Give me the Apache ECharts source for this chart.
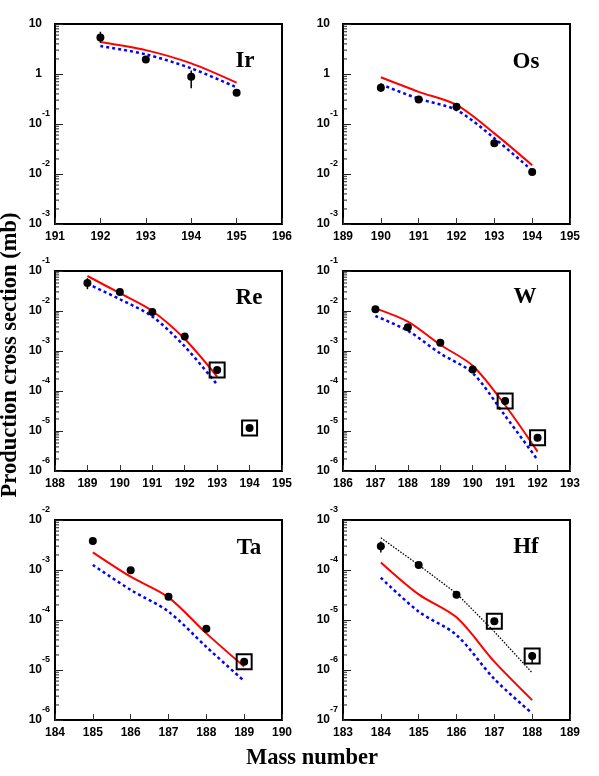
<!DOCTYPE html>
<html>
<head>
<meta charset="utf-8">
<script src="https://cdn.jsdelivr.net/npm/echarts@6/dist/echarts.min.js"></script>
<style>
html, body { margin: 0; padding: 0; background: #fff; }
#main { width: 599px; height: 776px; }
</style>
</head>
<body>
<div id="main"></div>
<script>
// Ir
var irMass = [192, 193, 194, 195];
var irMeasured = [5.4, 1.94, 0.885, 0.42];
var irRed = [4.37, 3.0, 1.63, 0.67];
var irBlue = [3.63, 2.47, 1.3, 0.54];
var irErrors = [[192, 4.2, 7.0], [194, 0.52, 1.17]];
var irBoxed = [];

// Os
var osMass = [190, 191, 192, 193, 194];
var osMeasured = [0.53, 0.31, 0.222, 0.041, 0.011];
var osRed = [0.86, 0.44, 0.24, 0.065, 0.015];
var osBlue = [0.62, 0.32, 0.19, 0.052, 0.0117];
var osErrors = [[190, 0.436, 0.65]];
var osBoxed = [];

// Re
var reMass = [189, 190, 191, 192, 193, 194];
var reMeasured = [0.050, 0.030, 0.0095, 0.0023, 3.35e-4, 1.18e-5];
var reCalcMass = [189, 190, 191, 192, 193];
var reRed = [0.075, 0.0278, 0.010, 0.0020, 2.3e-4];
var reBlue = [0.048, 0.0197, 0.0073, 0.0013, 1.45e-4];
var reErrors = [[189, 0.035, 0.066]];
var reBoxed = [193, 194];

// W
var wMass = [187, 188, 189, 190, 191, 192];
var wMeasured = [0.011, 0.0039, 0.0016, 3.45e-4, 5.6e-5, 6.8e-6];
var wRed = [0.0116, 0.0054, 0.00143, 4.3e-4, 4.4e-5, 3.05e-6];
var wBlue = [0.0075, 0.0032, 8.7e-4, 2.8e-4, 2.4e-5, 1.9e-6];
var wErrors = [];
var wBoxed = [191, 192];

// Ta
var taMass = [185, 186, 187, 188, 189];
var taMeasured = [0.0038, 9.85e-4, 2.93e-4, 6.7e-5, 1.47e-5];
var taRed = [2.26e-3, 7.35e-4, 2.84e-4, 5.4e-5, 1.17e-5];
var taBlue = [1.26e-3, 4.0e-4, 1.47e-4, 2.9e-5, 6.0e-6];
var taErrors = [[185, 3.16e-3, 4.4e-3]];
var taBoxed = [189];

// Hf
var hfMass = [184, 185, 186, 187, 188];
var hfMeasured = [2.97e-4, 1.26e-4, 3.2e-5, 9.4e-6, 1.9e-6];
var hfRed = [1.42e-4, 3.26e-5, 1.13e-5, 1.47e-6, 2.5e-7];
var hfBlue = [7.0e-5, 1.47e-5, 5.0e-6, 6.6e-7, 1.36e-7];
var hfBlack = [4.4e-4, 1.26e-4, 3.4e-5, 5.85e-6, 8.8e-7];
var hfErrors = [[184, 2.25e-4, 3.7e-4], [188, 1.36e-6, 2.3e-6]];
var hfBoxed = [187, 188];

var panels = [
    {name: 'Ir', xMin: 191, xMax: 196, yMin: 1e-3, yMax: 10, mass: irMass, meas: irMeasured, calcMass: irMass, red: irRed, blue: irBlue, err: irErrors, boxed: irBoxed},
    {name: 'Os', xMin: 189, xMax: 195, yMin: 1e-3, yMax: 10, mass: osMass, meas: osMeasured, calcMass: osMass, red: osRed, blue: osBlue, err: osErrors, boxed: osBoxed},
    {name: 'Re', xMin: 188, xMax: 195, yMin: 1e-6, yMax: 1e-1, mass: reMass, meas: reMeasured, calcMass: reCalcMass, red: reRed, blue: reBlue, err: reErrors, boxed: reBoxed},
    {name: 'W', xMin: 186, xMax: 193, yMin: 1e-6, yMax: 1e-1, mass: wMass, meas: wMeasured, calcMass: wMass, red: wRed, blue: wBlue, err: wErrors, boxed: wBoxed},
    {name: 'Ta', xMin: 184, xMax: 190, yMin: 1e-6, yMax: 1e-2, mass: taMass, meas: taMeasured, calcMass: taMass, red: taRed, blue: taBlue, err: taErrors, boxed: taBoxed},
    {name: 'Hf', xMin: 183, xMax: 189, yMin: 1e-7, yMax: 1e-3, mass: hfMass, meas: hfMeasured, calcMass: hfMass, red: hfRed, blue: hfBlue, black: hfBlack, err: hfErrors, boxed: hfBoxed}
];

var gridLefts = [55, 343];
var gridTops = [24, 271, 520];
var labelPos = [[245, 61], [526, 62], [249, 298], [525, 297], [249, 548], [526, 547]];

var tickFont = 'Liberation Sans, Arial, sans-serif';
var serifFont = 'Liberation Serif, Times New Roman, serif';

function pairs(xs, ys) {
    return xs.map(function (x, i) { return [x, ys[i]]; });
}

function decadeLabel(v) {
    var e = Math.round(Math.log(v) / Math.LN10);
    if (e === 0) return '{b|1}{s|}';
    if (e === 1) return '{b|10}{s|}';
    return '{b|10}{e|' + e + '}';
}

function minorTickItem(params, api) {
    var p = api.coord([api.value(0), api.value(1)]);
    return {
        type: 'line',
        shape: {x1: p[0], y1: p[1], x2: p[0] + 4, y2: p[1]},
        style: {stroke: '#222', lineWidth: 1}
    };
}

function errorBarItem(params, api) {
    var lo = api.coord([api.value(0), api.value(1)]);
    var hi = api.coord([api.value(0), api.value(2)]);
    return {
        type: 'line',
        shape: {x1: lo[0], y1: lo[1], x2: hi[0], y2: hi[1]},
        style: {stroke: '#000', lineWidth: 1.5}
    };
}

var grids = [], xAxes = [], yAxes = [], series = [], graphics = [];

panels.forEach(function (p, i) {
    grids.push({
        left: gridLefts[i % 2],
        top: gridTops[Math.floor(i / 2)],
        width: 227,
        height: 200,
        show: true,
        borderColor: '#000',
        borderWidth: 2,
        backgroundColor: 'transparent'
    });
    xAxes.push({
        type: 'value', gridIndex: i, min: p.xMin, max: p.xMax, interval: 1,
        axisLine: {lineStyle: {color: '#000', width: 2}},
        axisTick: {inside: true, length: 6, lineStyle: {color: '#333', width: 1}},
        splitLine: {show: false},
        axisLabel: {color: '#000', fontSize: 12, fontWeight: 'bold', fontFamily: tickFont, margin: 7}
    });
    yAxes.push({
        type: 'log', logBase: 10, gridIndex: i, min: p.yMin, max: p.yMax, interval: 1,
        axisLine: {lineStyle: {color: '#000', width: 2}},
        axisTick: {inside: true, length: 8, lineStyle: {color: '#222', width: 1}},
        splitLine: {show: false},
        axisLabel: {
            margin: 5,
            formatter: decadeLabel,
            rich: {
                b: {color: '#000', fontSize: 12, fontWeight: 'bold', fontFamily: tickFont, lineHeight: 30},
                e: {color: '#000', fontSize: 9, fontWeight: 'bold', fontFamily: tickFont, lineHeight: 10, verticalAlign: 'top'},
                s: {width: 8}
            }
        }
    });

    // minor ticks at 2..9 of each decade on the left axis
    var minor = [];
    for (var d = p.yMin; d < p.yMax * 0.99; d *= 10) {
        for (var k = 2; k <= 9; k++) minor.push([p.xMin, d * k]);
    }
    series.push({
        type: 'custom', xAxisIndex: i, yAxisIndex: i, silent: true,
        renderItem: minorTickItem, data: minor, z: 1
    });

    if (p.black) {
        series.push({
            type: 'line', xAxisIndex: i, yAxisIndex: i, data: pairs(p.calcMass, p.black),
            showSymbol: false, symbol: 'none', silent: true,
            lineStyle: {color: '#000', width: 1.3, type: [1.5, 1.5]}
        });
    }
    series.push({
        type: 'line', xAxisIndex: i, yAxisIndex: i, data: pairs(p.calcMass, p.blue),
        showSymbol: false, symbol: 'none', smooth: 0.3, silent: true,
        lineStyle: {color: '#0000ff', width: 2.5, type: [3, 3]}
    });
    series.push({
        type: 'line', xAxisIndex: i, yAxisIndex: i, data: pairs(p.calcMass, p.red),
        showSymbol: false, symbol: 'none', smooth: 0.3, silent: true,
        lineStyle: {color: '#ff0000', width: 2}
    });
    if (p.err.length) {
        series.push({
            type: 'custom', xAxisIndex: i, yAxisIndex: i, silent: true,
            renderItem: errorBarItem, data: p.err, encode: {x: 0, y: [1, 2]}, z: 4
        });
    }
    series.push({
        type: 'scatter', xAxisIndex: i, yAxisIndex: i, data: pairs(p.mass, p.meas),
        symbol: 'circle', symbolSize: 8, itemStyle: {color: '#000', opacity: 1}, silent: true, z: 5
    });
    if (p.boxed.length) {
        var boxes = p.boxed.map(function (m) { return [m, p.meas[p.mass.indexOf(m)]]; });
        series.push({
            type: 'scatter', xAxisIndex: i, yAxisIndex: i, data: boxes,
            symbol: 'rect', symbolSize: 15, silent: true, z: 6,
            itemStyle: {color: 'rgba(0,0,0,0)', borderColor: '#000', borderWidth: 2, opacity: 1}
        });
    }

    graphics.push({
        type: 'text', x: labelPos[i][0], y: labelPos[i][1],
        style: {text: p.name, font: 'bold 23px ' + serifFont, fill: '#000', textAlign: 'center', textVerticalAlign: 'middle'}
    });
});

graphics.push({
    type: 'text', x: 10, y: 355, rotation: Math.PI / 2,
    style: {text: 'Production cross section (mb)', font: 'bold 22.5px ' + serifFont, fill: '#000', textAlign: 'center', textVerticalAlign: 'middle'}
});
graphics.push({
    type: 'text', x: 312, y: 758,
    style: {text: 'Mass number', font: 'bold 22.5px ' + serifFont, fill: '#000', textAlign: 'center', textVerticalAlign: 'middle'}
});

var myChart = echarts.init(document.getElementById('main'));
var option = {
    animation: false,
    backgroundColor: '#fff',
    grid: grids,
    xAxis: xAxes,
    yAxis: yAxes,
    series: series,
    graphic: graphics
};
myChart.setOption(option);
</script>
</body>
</html>
